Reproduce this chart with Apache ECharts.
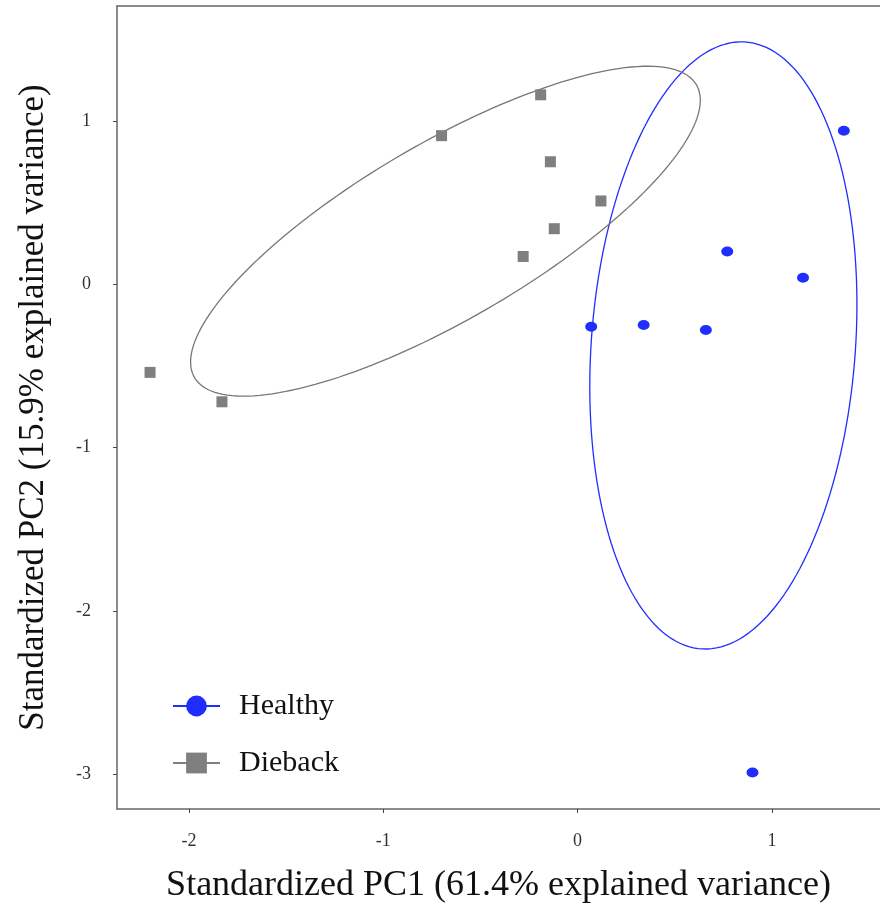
<!DOCTYPE html>
<html lang="en">
<head>
    <meta charset="UTF-8">
    <title>PCA</title>
    <script src="https://cdn.jsdelivr.net/npm/echarts@6/dist/echarts.min.js"></script>
</head>
<body style="padding: 0; margin: 0; background: #fff">
    <div id="main" style="width: 880px; height: 916px;"></div>
<script>
    // points (PC1, PC2)
    var healthy = [
        [1.37, 0.94], [0.77, 0.20], [1.16, 0.04], [0.07, -0.26],
        [0.34, -0.25], [0.66, -0.28], [0.90, -2.99]
    ];
    var dieback = [
        [-2.20, -0.54], [-1.83, -0.72], [-0.70, 0.91], [-0.19, 1.16],
        [-0.14, 0.75], [-0.12, 0.34], [-0.28, 0.17], [0.12, 0.51]
    ];
    // ellipses: center x, center y, semi-major, semi-minor, angle (deg)
    var healthyEllipse = [0.75, -0.375, 1.862, 0.68, 86.7];
    var diebackEllipse = [-0.68, 0.325, 1.574, 0.513, 35.8];
    var xTicks = [-2, -1, 0, 1];
    var yTicks = [-3, -2, -1, 0, 1];

    function ellipsePts(e) {
        var pts = [];
        var t = e[4] * Math.PI / 180;
        for (var i = 0; i <= 180; i++) {
            var a = i / 180 * 2 * Math.PI;
            var u = e[2] * Math.cos(a), v = e[3] * Math.sin(a);
            pts.push([e[0] + u * Math.cos(t) - v * Math.sin(t),
                      e[1] + u * Math.sin(t) + v * Math.cos(t)]);
        }
        return pts;
    }

    var font = 'Liberation Serif, Times New Roman, serif';
    var blue = '#1f2eff';
    var gray = '#7f7f7f';
    var axisColor = '#666';

    var myChart = echarts.init(document.getElementById('main'));
    var option = {
        animation: false,
        grid: { left: 117, top: 6, right: 0, bottom: 107 },
        legend: {
            left: 167, top: 686, orient: 'vertical',
            itemWidth: 47, itemHeight: 26, itemGap: 27,
            textStyle: { fontFamily: font, fontSize: 30, color: '#111', padding: [0, 0, 0, 14] },
            data: [
                { name: 'Healthy', lineStyle: { opacity: 1, width: 2, color: blue } },
                { name: 'Dieback', lineStyle: { opacity: 1, width: 2, color: gray } }
            ]
        },
        xAxis: [{
            type: 'value', min: -2.37, max: 1.556,
            name: 'Standardized PC1 (61.4% explained variance)',
            nameLocation: 'middle', nameGap: 59,
            nameTextStyle: { fontFamily: font, fontSize: 36, color: '#111' },
            axisLine: { onZero: false, lineStyle: { color: axisColor, width: 1.5 } },
            axisTick: { inside: false, length: 4, lineStyle: { color: '#444' }, customValues: xTicks },
            axisLabel: { fontFamily: font, fontSize: 18, color: '#333', margin: 23, customValues: xTicks },
            splitLine: { show: false }
        }, {
            // top frame line
            type: 'value', position: 'top', min: -2.37, max: 1.556,
            axisLine: { show: true, onZero: false, lineStyle: { color: axisColor, width: 1.5 } },
            axisTick: { show: false }, axisLabel: { show: false }, splitLine: { show: false }
        }],
        yAxis: {
            type: 'value', min: -3.214, max: 1.704,
            name: 'Standardized PC2 (15.9% explained variance)',
            nameLocation: 'middle', nameGap: 66,
            nameTextStyle: { fontFamily: font, fontSize: 35, color: '#111' },
            axisLine: { onZero: false, lineStyle: { color: axisColor, width: 1.5 } },
            axisTick: { length: 4, lineStyle: { color: '#444' }, customValues: yTicks },
            axisLabel: { fontFamily: font, fontSize: 18, color: '#333', margin: 26, customValues: yTicks },
            splitLine: { show: false }
        },
        series: [
            {
                name: 'Healthy ellipse', type: 'line', data: ellipsePts(healthyEllipse),
                showSymbol: false, lineStyle: { color: blue, width: 1.3 }, silent: true
            },
            {
                name: 'Dieback ellipse', type: 'line', data: ellipsePts(diebackEllipse),
                showSymbol: false, lineStyle: { color: '#777', width: 1.3 }, silent: true
            },
            {
                name: 'Healthy', type: 'line', data: healthy,
                symbol: 'circle', symbolSize: [12, 10], showAllSymbol: true,
                itemStyle: { color: blue }, lineStyle: { opacity: 0 }
            },
            {
                name: 'Dieback', type: 'line', data: dieback,
                symbol: 'rect', symbolSize: 11, showAllSymbol: true,
                itemStyle: { color: gray }, lineStyle: { opacity: 0 }
            }
        ]
    };
    myChart.setOption(option);
</script>
</body>
</html>
